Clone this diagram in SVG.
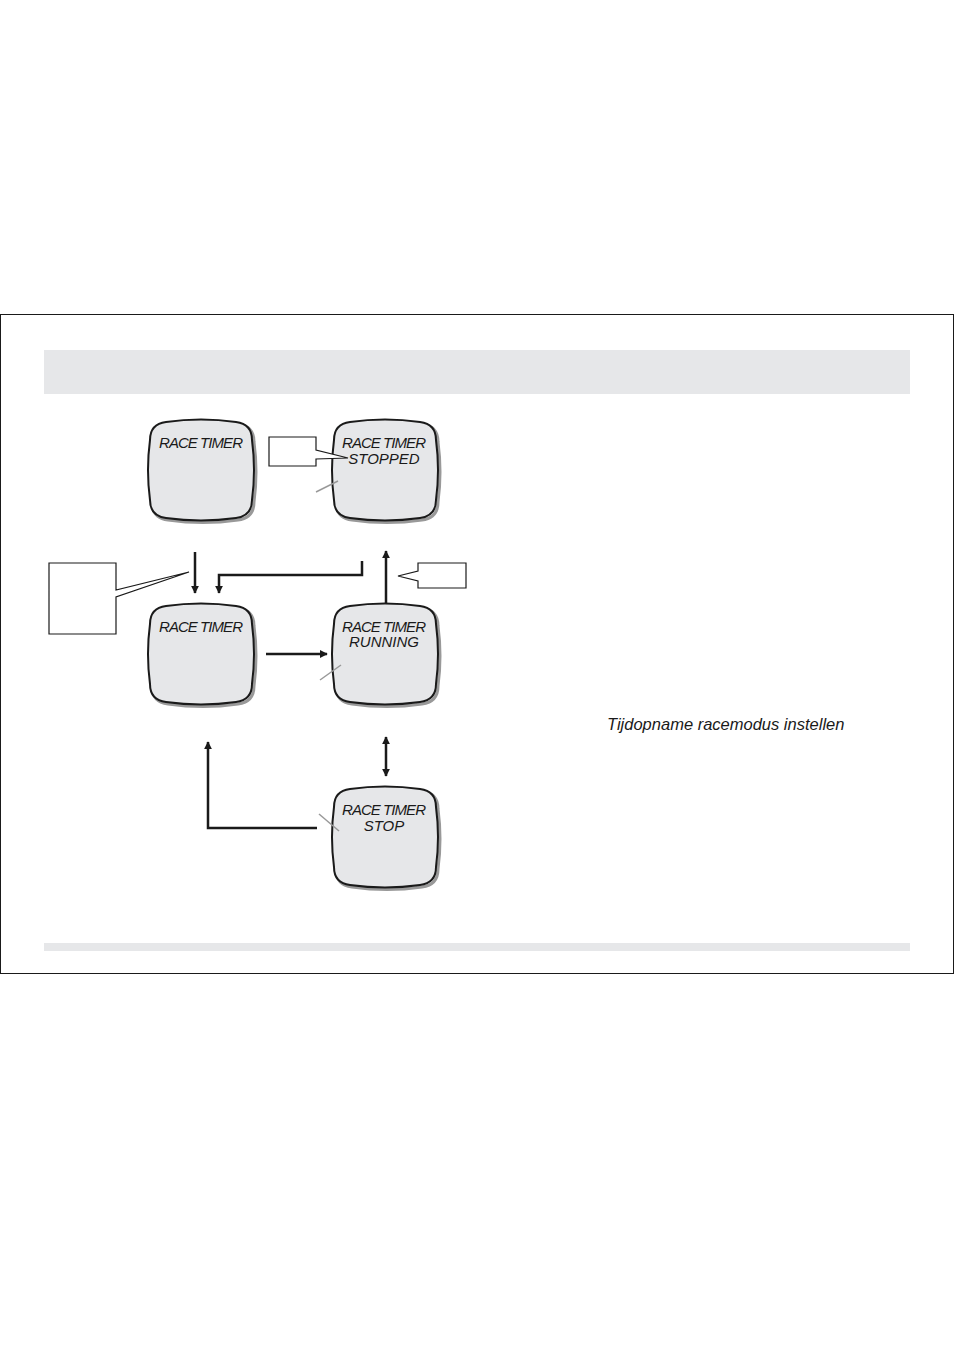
<svg xmlns="http://www.w3.org/2000/svg" xmlns:xlink="http://www.w3.org/1999/xlink" width="954" height="1351" viewBox="0 0 954 1351">
<style>
.scr{fill:#e6e7e9;stroke:#1a1a1a;stroke-width:2}
.sh{fill:none;stroke:#999;stroke-width:3}
.t{font-family:"Liberation Sans",Arial,sans-serif;font-style:italic;font-size:15px;fill:#1a1a1a;text-anchor:middle}
.c{fill:none;stroke:#1a1a1a;stroke-width:2.5}
.b{fill:#fff;stroke:#1a1a1a;stroke-width:1.2}
.g{stroke:#999;stroke-width:1.5}
</style>
<defs>
<path id="s" d="M18,2 Q53,-3 88,2 Q104,4 104,20 Q108,50 104,80 Q104,96 88,98 Q53,103 18,98 Q2,96 2,80 Q-2,50 2,20 Q2,4 18,2 Z"/>
<marker id="a" viewBox="0 0 10 10" refX="9" refY="5" markerWidth="3.2" markerHeight="3.2" orient="auto-start-reverse"><path d="M0,0 L10,5 L0,10 Z" fill="#1a1a1a"/></marker>
</defs>
<rect x="0.5" y="314.5" width="953" height="659" fill="#fff" stroke="#1a1a1a"/>
<rect x="44" y="350" width="866" height="44" fill="#e6e7e9"/>
<rect x="44" y="943" width="866" height="8" fill="#e6e7e9"/>
<g id="n1"><use href="#s" class="sh" x="150" y="422"/><use href="#s" class="scr" x="148" y="420"/><text class="t" x="201" y="448" textLength="84">RACE TIMER</text></g>
<g id="n2"><use href="#s" class="sh" x="334" y="422"/><use href="#s" class="scr" x="332" y="420"/><text class="t" x="384" y="448" textLength="84">RACE TIMER</text><text class="t" x="384" y="464">STOPPED</text><line class="g" x1="316" y1="492" x2="338" y2="481"/></g>
<g id="n3"><use href="#s" class="sh" x="150" y="606"/><use href="#s" class="scr" x="148" y="604"/><text class="t" x="201" y="632" textLength="84">RACE TIMER</text></g>
<g id="n4"><use href="#s" class="sh" x="334" y="606"/><use href="#s" class="scr" x="332" y="604"/><text class="t" x="384" y="632" textLength="84">RACE TIMER</text><text class="t" x="384" y="647">RUNNING</text><line class="g" x1="320" y1="680" x2="341" y2="665"/></g>
<g id="n5"><use href="#s" class="sh" x="334" y="789"/><use href="#s" class="scr" x="332" y="787"/><text class="t" x="384" y="815" textLength="84">RACE TIMER</text><text class="t" x="384" y="831">STOP</text><line class="g" x1="319" y1="814" x2="339" y2="831"/></g>
<g id="callouts">
<path class="b" d="M269,437 H316 V450 L348,458 L316,459 V466 H269 Z"/>
<path class="b" d="M49,563 H116 V590 L189,572 L116,597 V634 H49 Z"/>
<path class="b" d="M418,563 H466 V588 H418 V581 L398,576 L418,571 Z"/>
</g>
<g id="connectors">
<line class="c" x1="195" y1="552" x2="195" y2="593" marker-end="url(#a)"/>
<polyline class="c" points="362,561 362,575 219,575 219,593" marker-end="url(#a)"/>
<line class="c" x1="386" y1="603" x2="386" y2="551" marker-end="url(#a)"/>
<line class="c" x1="266" y1="654" x2="327" y2="654" marker-end="url(#a)"/>
<line class="c" x1="386" y1="737" x2="386" y2="776" marker-start="url(#a)" marker-end="url(#a)"/>
<polyline class="c" points="317,828 208,828 208,742" marker-end="url(#a)"/>
</g>
<text x="607" y="730" font-family="Liberation Sans,Arial,sans-serif" font-style="italic" font-size="16.5" fill="#1a1a1a">Tijdopname racemodus instellen</text>
</svg>
